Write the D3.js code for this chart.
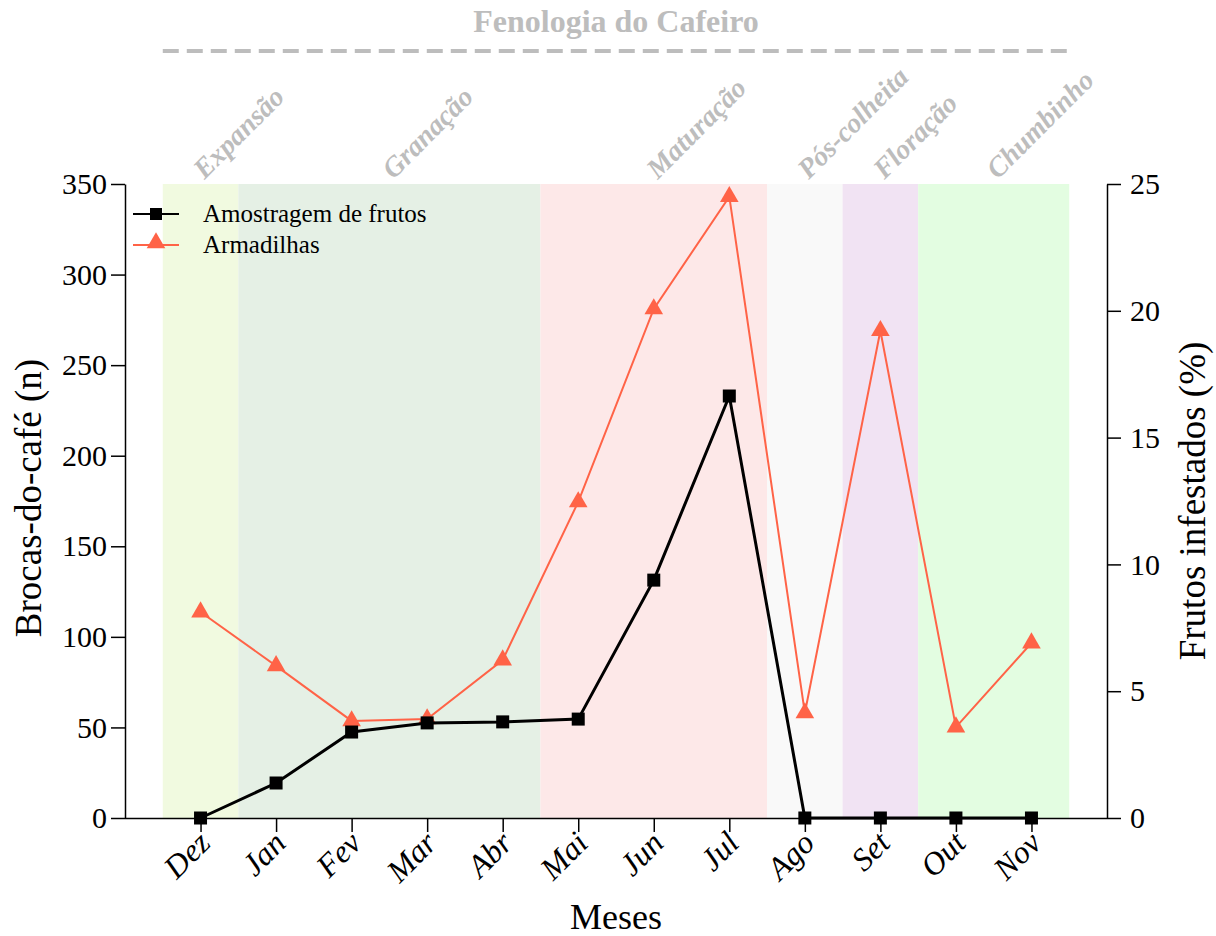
<!DOCTYPE html>
<html>
<head>
<meta charset="utf-8">
<script src="https://cdn.jsdelivr.net/npm/d3@7/dist/d3.min.js"></script>
<style>
  body { margin: 0; background: #fff; }
  svg { display: block; }
</style>
</head>
<body>
<svg id="chart" width="1216" height="936" font-family="'Liberation Serif', 'Times New Roman', serif"></svg>
<script>
// Months of the sampling year
const months = ["Dez", "Jan", "Fev", "Mar", "Abr", "Mai", "Jun", "Jul", "Ago", "Set", "Out", "Nov"];

// Coffee borers caught in traps (n) — left axis
const armadilhas = [113.7, 84, 53.6, 54.7, 87.2, 174.5, 281, 343, 58, 269, 50.2, 96.6];

// Infested fruits from fruit sampling (%) — right axis
const amostragem = [0, 1.38, 3.39, 3.75, 3.79, 3.9, 9.38, 16.64, 0, 0, 0, 0];

// Phenological phases: first and last month index of each phase
const phaseNames = ["Expansão", "Granação", "Maturação", "Pós-colheita", "Floração", "Chumbinho"];
const phaseStart = [0, 1, 5, 8, 9, 10];
const phaseEnd   = [0, 4, 7, 8, 9, 11];
const phaseColors = ["#F1FAE0", "#E5F0E5", "#FDE8E8", "#F9F9F9", "#F1E3F3", "#E3FDE1"];

const leftTicks = [0, 50, 100, 150, 200, 250, 300, 350];
const rightTicks = [0, 5, 10, 15, 20, 25];

const SERIF = "'Liberation Serif', 'Times New Roman', serif";
const svg = d3.select("#chart");
const plot = { left: 125, right: 1107, top: 184, bottom: 818 };

// One empty month slot on each side of the series
const x = d3.scaleLinear().domain([-1, months.length]).range([plot.left, plot.right]);
const yL = d3.scaleLinear().domain([0, 350]).range([plot.bottom, plot.top]);
const yR = d3.scaleLinear().domain([0, 25]).range([plot.bottom, plot.top]);

const red = "#FF6347";
const grey = "#BDBDBD";

// Phase background bands
const phases = phaseNames.map((name, i) => ({ name, s: phaseStart[i], e: phaseEnd[i], c: phaseColors[i] }));
svg.append("g").selectAll("rect").data(phases).join("rect")
  .attr("x", d => x(d.s - 0.5))
  .attr("width", d => x(d.e + 0.5) - x(d.s - 0.5))
  .attr("y", plot.top)
  .attr("height", plot.bottom - plot.top)
  .attr("fill", d => d.c);

// Phase labels, slanted above the bands
svg.append("g").selectAll("text").data(phases).join("text")
  .attr("transform", d => `translate(${x((d.s + d.e) / 2) + 4},${plot.top - 4}) rotate(-45)`)
  .attr("text-anchor", "start")
  .attr("font-size", 28)
  .attr("font-weight", "bold")
  .attr("font-style", "italic")
  .attr("fill", grey)
  .text(d => d.name);

// Header: title and dashed rule
svg.append("text")
  .attr("x", (x(-0.5) + x(11.5)) / 2)
  .attr("y", 32)
  .attr("text-anchor", "middle")
  .attr("font-size", 32)
  .attr("font-weight", "bold")
  .attr("fill", grey)
  .text("Fenologia do Cafeiro");

svg.append("line")
  .attr("x1", x(-0.5)).attr("x2", x(11.5) + 2)
  .attr("y1", 51).attr("y2", 51)
  .attr("stroke", grey)
  .attr("stroke-width", 4)
  .attr("stroke-dasharray", "16,8");

// Axes
const styleAxis = (g, size) => {
  g.attr("font-family", SERIF);
  g.selectAll("text").attr("font-size", size).attr("fill", "#000");
  g.selectAll("line, path").attr("stroke", "#000").attr("stroke-width", 1.5);
};

const gL = svg.append("g").attr("transform", `translate(${plot.left},0)`)
  .call(d3.axisLeft(yL).tickValues(leftTicks).tickSize(14).tickPadding(4).tickSizeOuter(0));
styleAxis(gL, 30);

const gR = svg.append("g").attr("transform", `translate(${plot.right},0)`)
  .call(d3.axisRight(yR).tickValues(rightTicks).tickSize(14).tickPadding(9).tickSizeOuter(0));
styleAxis(gR, 30);

const gX = svg.append("g").attr("transform", `translate(0,${plot.bottom})`)
  .call(d3.axisBottom(x).tickValues(d3.range(months.length)).tickFormat(i => months[i]).tickSize(14).tickSizeOuter(0));
styleAxis(gX, 32);
gX.select(".domain").attr("d", `M${plot.left},0.5H${plot.right}`);
gX.selectAll("text")
  .attr("font-style", "italic")
  .attr("text-anchor", "end")
  .attr("dy", null)
  .attr("y", 0)
  .attr("transform", "translate(11,27) rotate(-45)");

// Axis titles
svg.append("text")
  .attr("transform", `translate(41,${(plot.top + plot.bottom) / 2 - 3}) rotate(-90)`)
  .attr("text-anchor", "middle").attr("font-size", 37).text("Brocas-do-café (n)");
svg.append("text")
  .attr("transform", `translate(1205,${(plot.top + plot.bottom) / 2}) rotate(-90)`)
  .attr("text-anchor", "middle").attr("font-size", 37).text("Frutos infestados (%)");
svg.append("text")
  .attr("x", (plot.left + plot.right) / 2).attr("y", 929)
  .attr("text-anchor", "middle").attr("font-size", 36).text("Meses");

// Traps series (left axis)
const lineL = d3.line().x((d, i) => x(i)).y(d => yL(d));
svg.append("path").datum(armadilhas)
  .attr("d", lineL).attr("fill", "none").attr("stroke", red).attr("stroke-width", 2);
const tri = d3.symbol().type(d3.symbolTriangle).size(150);
svg.append("g").selectAll("path").data(armadilhas).join("path")
  .attr("transform", (d, i) => `translate(${x(i)},${yL(d)})`)
  .attr("d", tri).attr("fill", red);

// Fruit sampling series (right axis)
const lineR = d3.line().x((d, i) => x(i)).y(d => yR(d));
svg.append("path").datum(amostragem)
  .attr("d", lineR).attr("fill", "none").attr("stroke", "#000").attr("stroke-width", 3);
svg.append("g").selectAll("rect").data(amostragem).join("rect")
  .attr("x", (d, i) => x(i) - 6.5).attr("y", d => yR(d) - 6.5)
  .attr("width", 13).attr("height", 13).attr("fill", "#000");

// Legend
const lg = svg.append("g").attr("transform", "translate(133,214)");
lg.append("line").attr("x1", 0).attr("x2", 46).attr("y1", 0).attr("y2", 0).attr("stroke", "#000").attr("stroke-width", 2);
lg.append("rect").attr("x", 17).attr("y", -6).attr("width", 12).attr("height", 12).attr("fill", "#000");
lg.append("text").attr("x", 70).attr("y", 8).attr("font-size", 25).text("Amostragem de frutos");
lg.append("line").attr("x1", 0).attr("x2", 46).attr("y1", 31).attr("y2", 31).attr("stroke", red).attr("stroke-width", 2);
lg.append("path").attr("transform", "translate(23,29)").attr("d", tri).attr("fill", red);
lg.append("text").attr("x", 70).attr("y", 39).attr("font-size", 25).text("Armadilhas");
</script>
</body>
</html>
